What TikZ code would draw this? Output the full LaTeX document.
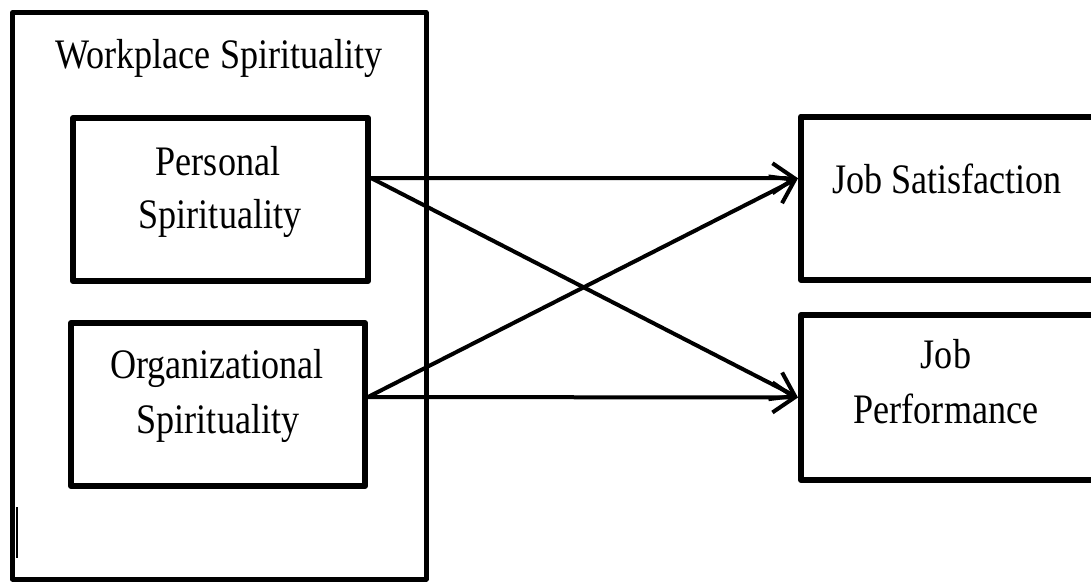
\documentclass[tikz,border=0pt]{standalone}
\usepackage{fontspec}
\setmainfont{Liberation Serif}[FakeStretch=0.86]
\usetikzlibrary{arrows.meta}

\begin{document}
\begin{tikzpicture}[x=1pt,y=-1pt,
		box/.style={draw,line width=6pt,line join=round,inner sep=0pt},
		lbl/.style={anchor=base,inner sep=0pt,font=\fontsize{42}{50}\selectfont},
		link/.style={line width=4pt,-{Straight Barb[length=22pt,width=30pt]}}]
		\useasboundingbox (0,0) rectangle (1091,582);
		\fill[white] (0,0) rectangle (1091,582);
		\clip (0,0) rectangle (1091,582);
		% boxes
		\node[box,line width=5pt,minimum width=413.5pt,minimum height=566.5pt] (ws) at (219.25,295.75) {};
		\node[box,minimum width=295pt,minimum height=163pt] (pers) at (220.5,199.5) {};
		\node[box,minimum width=294pt,minimum height=163pt] (org) at (218,404.5) {};
		\node[box,minimum width=319pt,minimum height=163.5pt] (js) at (960.5,198.25) {};
		\node[box,minimum width=319pt,minimum height=165pt] (jp) at (960.5,397.5) {};
		% labels
		\node[lbl] (wsA) at (219,68) {Workplace Spirituality};
		\node[lbl] (persA) at (218,175) {Personal};
		\node[lbl] (persB) at (220,228) {Spirituality};
		\node[lbl] (orgA) at (217,378) {Organizational};
		\node[lbl] (orgB) at (218,433) {Spirituality};
		\node[lbl] (jsA) at (947,193) {Job Satisfaction};
		\node[lbl] (jpA) at (946,368) {Job};
		\node[lbl] (jpB) at (946,423) {Performance};
		\draw[line width=2.5pt] (17,507) -- (17,558);
		% links
		\draw[link] ([yshift=21.5pt]pers.east) -- ([yshift=20pt]js.west);
		\draw[link] ([yshift=21.5pt]pers.east) -- (jp.west);
		\draw[link] ([yshift=7.5pt]org.east) -- ([yshift=20pt]js.west);
		\draw[link] ([yshift=7.5pt]org.east) -- (jp.west);
	\end{tikzpicture}
\end{document}
